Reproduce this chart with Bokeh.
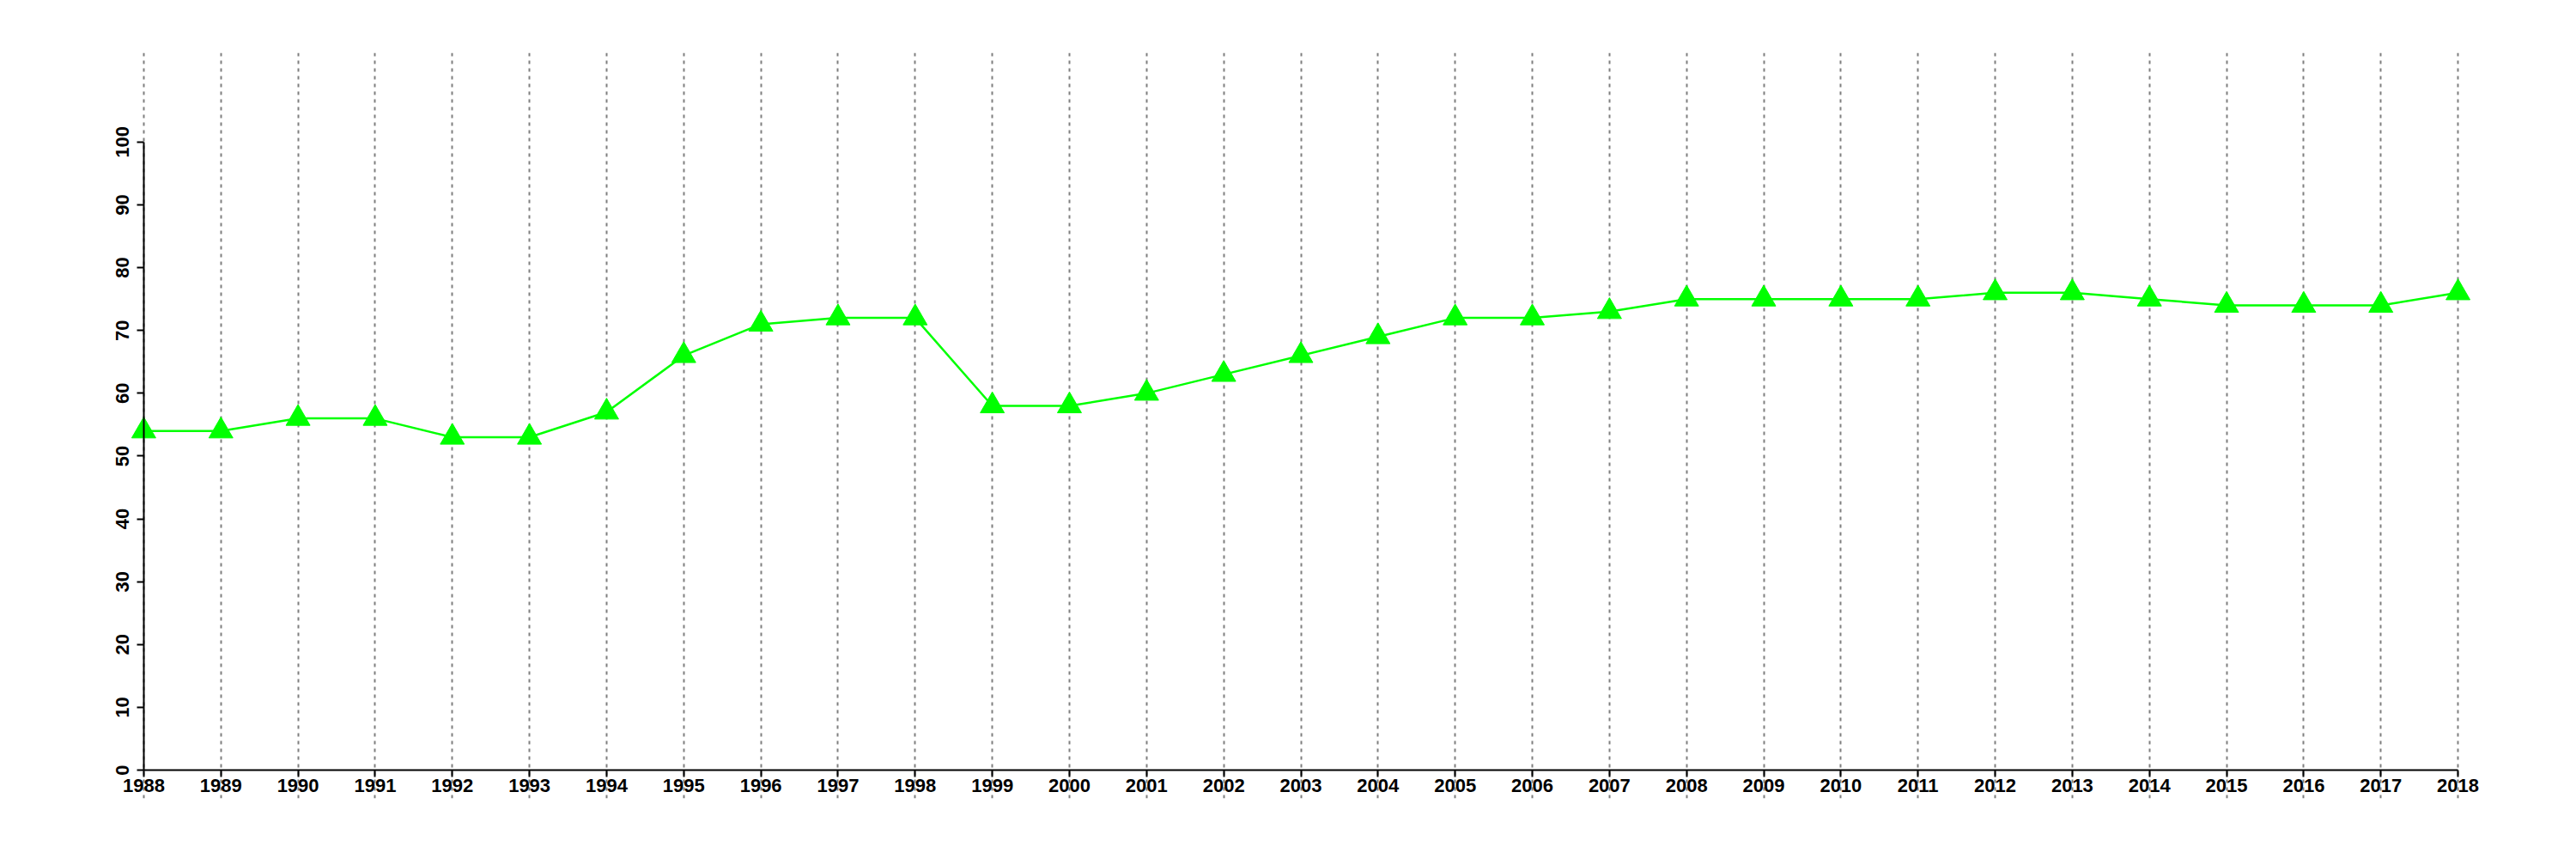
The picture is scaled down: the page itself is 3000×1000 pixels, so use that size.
from bokeh.plotting import figure
from bokeh.models import Range1d, FixedTicker, LinearAxis, Grid
from bokeh.embed import file_html
from bokeh.resources import INLINE

years = list(range(1988, 2019))
values = [54, 54, 56, 56, 53, 53, 57, 66, 71, 72, 72, 58, 58, 60, 63, 66, 69, 72, 72, 73,
          75, 75, 75, 75, 76, 76, 75, 74, 74, 74, 76]
y_ticks = list(range(0, 101, 10))

p = figure(frame_width=2785, frame_height=868, output_backend="svg", toolbar_location=None,
           x_range=Range1d(1987.5, 2018.5), y_range=Range1d(-4.5, 114.2),
           x_axis_type=None, y_axis_type=None,
           min_border_left=122, min_border_top=61, min_border_bottom=50, min_border_right=50)
p.outline_line_color = None
p.background_fill_color = "white"

xaxis = LinearAxis(ticker=FixedTicker(ticks=years), fixed_location=0, bounds=(1988, 2018))
yaxis = LinearAxis(ticker=FixedTicker(ticks=y_ticks), fixed_location=1988, bounds=(0, 100))
for ax in (xaxis, yaxis):
    ax.axis_line_width = 2
    ax.axis_line_color = "black"
    ax.major_tick_line_width = 2
    ax.major_tick_out = 8
    ax.major_tick_in = 0
    ax.minor_tick_line_color = None
    ax.major_label_text_font = "Liberation Sans"
    ax.major_label_text_font_style = "bold"
    ax.major_label_text_font_size = "22px"
    ax.major_label_text_color = "black"
xaxis.major_label_standoff = 2
yaxis.major_label_standoff = 9
yaxis.major_label_orientation = "vertical"
p.add_layout(xaxis, "below")
p.add_layout(yaxis, "left")

grid = Grid(dimension=0, ticker=FixedTicker(ticks=years), grid_line_color="#7f7f7f",
            grid_line_width=2, grid_line_dash="4 5")
p.add_layout(grid)

p.line(years, values, line_color="#00ff00", line_width=2.5)
p.scatter(years, values, marker="triangle", size=28, fill_color="#00ff00", line_color="#00ff00")

open("out.html", "w").write(file_html(p, INLINE))
